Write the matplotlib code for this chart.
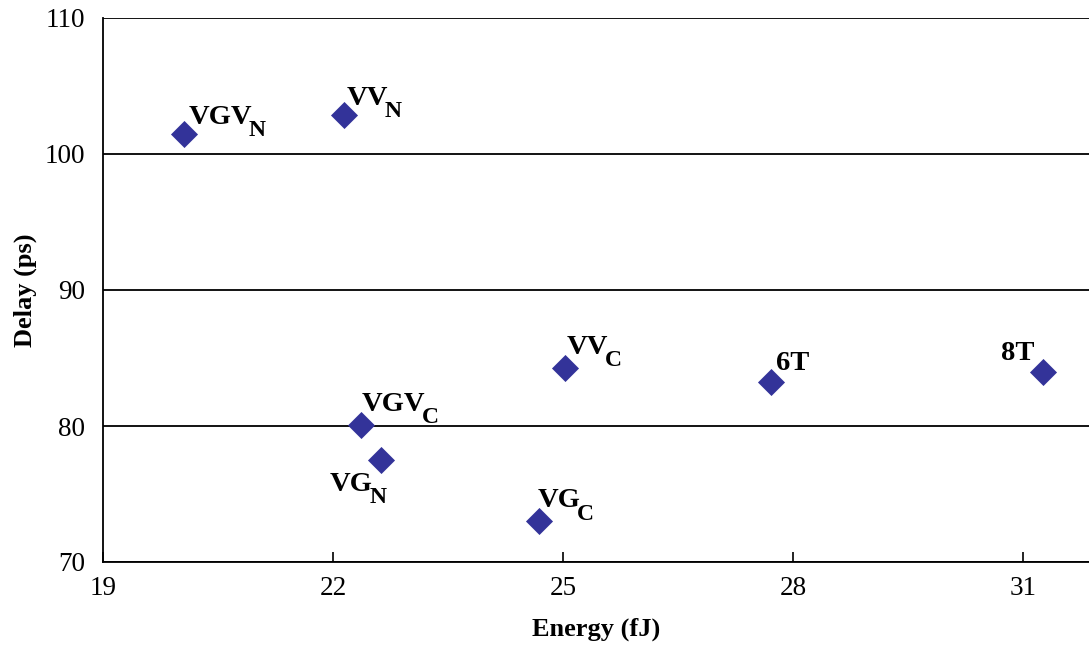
import matplotlib
matplotlib.use('Agg')
import matplotlib.pyplot as plt

plt.rcParams['font.family'] = 'Liberation Serif'

names = ['VGV', 'VV', 'VGV', 'VG', 'VG', 'VV', '6T', '8T']
subs = ['N', 'N', 'C', 'N', 'C', 'C', '', '']
energy = [20.06, 22.14, 22.37, 22.63, 24.69, 25.03, 27.71, 31.26]
delay = [101.5, 102.9, 80.1, 77.5, 73.0, 84.3, 83.2, 84.0]
# label offsets in points (dx, dy) and horizontal alignment
offsets = [(3, 7), (2, 7), (0, 10), (-37, -22), (-1, 10), (1, 10), (4, 9), (-6, 8)]
aligns = ['left', 'left', 'left', 'left', 'left', 'left', 'left', 'right']

fig = plt.figure(figsize=(10.89, 6.45), dpi=100)
ax = fig.add_axes([103 / 1089, 83 / 645, 986 / 1089, 544 / 645])

ax.scatter(energy, delay, marker='D', s=190, color='#333399', zorder=3, linewidths=0)

mains = []
for n, x, y, off, ha in zip(names, energy, delay, offsets, aligns):
    t = ax.annotate(n, (x, y), xytext=off, textcoords='offset points',
                    ha=ha, va='baseline', fontsize=20.5, fontweight='bold')
    mains.append(t)

# subscripts placed right after the main text, dropped below the baseline
fig.canvas.draw()
r = fig.canvas.get_renderer()
for t, s, x, y, off in zip(mains, subs, energy, delay, offsets):
    if not s:
        continue
    w = t.get_window_extent(r).width * 72 / fig.dpi
    ax.annotate(s, (x, y), xytext=(off[0] + w - 2.5, off[1] - 9), textcoords='offset points',
                ha='left', va='baseline', fontsize=17, fontweight='bold')

ax.set_xlim(19, 31.86)
ax.set_ylim(70, 110)
ax.set_xticks([19, 22, 25, 28, 31])
ax.set_yticks([70, 80, 90, 100, 110])
ax.yaxis.grid(True, color='black', linewidth=1.3)
ax.set_axisbelow(True)

for side in ['top', 'right']:
    ax.spines[side].set_visible(False)
for side in ['left', 'bottom']:
    ax.spines[side].set_linewidth(1.3)

ax.tick_params(axis='x', direction='in', length=7, width=1.2, labelsize=19.5, pad=10)
ax.tick_params(axis='y', length=0, labelsize=19.5, pad=13)

ax.set_xlabel('Energy (fJ)', fontsize=19, fontweight='bold', labelpad=12)
ax.set_ylabel('Delay (ps)', fontsize=19, fontweight='bold', labelpad=5)

fig.savefig('out.png', dpi=100)
